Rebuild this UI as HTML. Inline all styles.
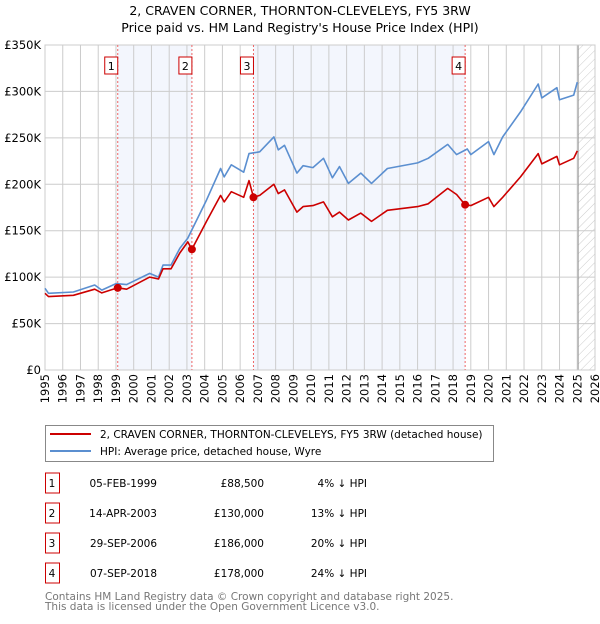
<!DOCTYPE html>
<html><head><meta charset="utf-8"><style>
body{margin:0;background:#fff;font-family:"DejaVu Sans","Liberation Sans",sans-serif;}
svg text{font-family:"DejaVu Sans","Liberation Sans",sans-serif;}
</style></head><body>
<svg id="chart" width="600" height="620" xmlns="http://www.w3.org/2000/svg">
<defs><pattern id="hatch" width="6" height="6" patternUnits="userSpaceOnUse" patternTransform="rotate(45)"><line x1="0" y1="0" x2="0" y2="6" stroke="#ccc" stroke-width="1"/></pattern></defs>
<text x="300" y="15" text-anchor="middle" font-size="12.5">2, CRAVEN CORNER, THORNTON-CLEVELEYS, FY5 3RW</text>
<text x="300" y="32" text-anchor="middle" font-size="12.5">Price paid vs. HM Land Registry's House Price Index (HPI)</text>
<g id="plot"></g>
<g>
<rect x="45.5" y="425.5" width="448" height="36" fill="#fff" stroke="#888"/>
<line x1="50" y1="434" x2="91" y2="434" stroke="#cc0000" stroke-width="2"/>
<text x="100" y="438" font-size="10.5">2, CRAVEN CORNER, THORNTON-CLEVELEYS, FY5 3RW (detached house)</text>
<line x1="50" y1="451" x2="91" y2="451" stroke="#5b8fd0" stroke-width="2"/>
<text x="100" y="455" font-size="10.5">HPI: Average price, detached house, Wyre</text>
</g>
<g id="table" font-size="10.5"></g>
<text x="45" y="600" font-size="10.5" fill="#777">Contains HM Land Registry data © Crown copyright and database right 2025.</text>
<text x="45" y="610" font-size="10.5" fill="#777">This data is licensed under the Open Government Licence v3.0.</text>
</svg>
<script>
const hpiYears=[1995.0,1995.2,1996.6,1997.8,1998.2,1999.0,1999.6,2000.9,2001.4,2001.65,2002.1,2002.6,2003.05,2004.1,2004.9,2005.1,2005.5,2006.2,2006.5,2007.1,2007.9,2008.15,2008.5,2009.2,2009.55,2010.1,2010.7,2011.2,2011.6,2012.1,2012.8,2013.4,2014.3,2016.0,2016.6,2017.7,2018.2,2018.8,2019.0,2020.0,2020.3,2020.8,2021.8,2022.8,2023.0,2023.85,2024.0,2024.8,2025.0];
const hpiValues=[88,82.6,84,91.5,86,93,92,104,100,113,113,131,142,183,217,208,221,213,233,235,251,237,242,212,220,218,228,207,219,201,212,201,217,223,228,243,232,238,232,246,232,251,278,308,293,304,291,296,310];
const priceYears=[1995.0,1995.2,1996.6,1997.8,1998.2,1999.1,1999.6,2000.9,2001.4,2001.65,2002.1,2002.6,2003.05,2003.28,2004.1,2004.9,2005.1,2005.5,2006.2,2006.5,2006.75,2007.1,2007.9,2008.15,2008.5,2009.2,2009.55,2010.1,2010.7,2011.2,2011.6,2012.1,2012.8,2013.4,2014.3,2016.0,2016.6,2017.7,2018.2,2018.68,2019.0,2020.0,2020.3,2020.8,2021.8,2022.8,2023.0,2023.85,2024.0,2024.8,2025.0];
const priceValues=[82.6,79,80.5,87,83,88.5,87,100,98,109,109,126,138,130,160,188,181,192,186,204,186,188,200,190,194,170,176,177,181,165,170,161.5,169,160,172,176,179,195.6,189,178,177,186,176,186,208,233,222,230,221,228,236];
const saleYears=[1999.1,2003.28,2006.75,2018.68];
const saleValues=[88.5,130,186,178];
const saleLabels=["1","2","3","4"];
const saleDates=["05-FEB-1999","14-APR-2003","29-SEP-2006","07-SEP-2018"];
const salePrices=["£88,500","£130,000","£186,000","£178,000"];
const saleDiffs=["4% ↓ HPI","13% ↓ HPI","20% ↓ HPI","24% ↓ HPI"];
const yTicks=[0,50,100,150,200,250,300,350];
const yTickLabels=["£0","£50K","£100K","£150K","£200K","£250K","£300K","£350K"];
const xTicks=[1995,1996,1997,1998,1999,2000,2001,2002,2003,2004,2005,2006,2007,2008,2009,2010,2011,2012,2013,2014,2015,2016,2017,2018,2019,2020,2021,2022,2023,2024,2025,2026];

const NS="http://www.w3.org/2000/svg";
const X0=45,X1=595,Y0=370,Y1=45;
const xs=y=>X0+(y-1995)/(2026-1995)*(X1-X0);
const ys=v=>Y0-v/350*(Y0-Y1);
const plot=document.getElementById('plot');
function mk(tag,attrs,parent){const e=document.createElementNS(NS,tag);for(const k in attrs)e.setAttribute(k,attrs[k]);(parent||plot).appendChild(e);return e;}
for(const [a,b] of [[0,1],[2,3]]){
 const r=mk('rect',{x:xs(saleYears[a]),y:Y1,width:xs(saleYears[b])-xs(saleYears[a]),height:Y0-Y1,fill:'#f3f6fd'});
 
 
}
const hx=xs(2025.05);
const h=mk('rect',{x:hx,y:Y1,width:X1-hx,height:Y0-Y1,fill:'url(#hatch)'});


yTicks.forEach((t,i)=>{
 const l=mk('line',{x1:X0,x2:X1,y1:ys(t),y2:ys(t),stroke:'#ccc'});
 
 
 const tx=mk('text',{x:X0-4,y:ys(t)+4,'text-anchor':'end','font-size':'11.5'});
 
 
 tx.textContent=yTickLabels[i];
});
xTicks.forEach(t=>{
 const l=mk('line',{x1:xs(t),x2:xs(t),y1:Y1,y2:Y0,stroke:'#ccc'});
 
 
 const px=xs(t)+4,py=Y0+4;
 const tx=mk('text',{x:px,y:py,'text-anchor':'end','font-size':'11.5',transform:`rotate(-90 ${px} ${py})`});
 
 
 tx.textContent=t;
});
const vl=mk('line',{x1:hx,x2:hx,y1:Y1,y2:Y0,stroke:'#999'});


const border=mk('rect',{x:X0,y:Y1,width:X1-X0,height:Y0-Y1,fill:'none',stroke:'#ccc'});


saleYears.forEach((y,i)=>{
 const l=mk('line',{x1:xs(y),x2:xs(y),y1:Y1,y2:Y0,stroke:'#ee6666','stroke-dasharray':'2,2'});
 
 
 const bx=xs(y)-13;
 const r=mk('rect',{x:bx,y:57,width:13,height:17,fill:'#fff',stroke:'#cc0000'});
 
 
 const t=mk('text',{x:bx+6.5,y:70,'text-anchor':'middle','font-size':'11'});
 
 
 t.textContent=saleLabels[i];
});
function line(xa,va,color,name){
 const p=mk('polyline',{points:xa.map((x,i)=>xs(x).toFixed(1)+','+ys(va[i]).toFixed(1)).join(' '),fill:'none',stroke:color,'stroke-width':1.6,'stroke-linejoin':'round'});
 
 
}
line(hpiYears,hpiValues,'#5b8fd0','hpi-line');
line(priceYears,priceValues,'#cc0000','price-paid-line');
saleYears.forEach((y,i)=>{
 const c=mk('circle',{cx:xs(y),cy:ys(saleValues[i]),r:4,fill:'#cc0000'});
 
 
});
const tb=document.getElementById('table');
const rowY=[483,513,543,573];
saleLabels.forEach((s,i)=>{
 const y=rowY[i];
 const r=mk('rect',{x:45.5,y:y-10,width:14,height:20,fill:'#fff',stroke:'#cc0000'},tb);
 
 
 const cells=[[52,'middle',s,'row-number'],[157,'end',saleDates[i],'sale-date'],[264,'end',salePrices[i],'sale-price'],[367,'end',saleDiffs[i],'hpi-difference']];
 cells.forEach(c=>{
  const t=mk('text',{x:c[0],y:y+4,'text-anchor':c[1]},tb);
  
  
  t.textContent=c[2];
 });
});
</script>
</body></html>
